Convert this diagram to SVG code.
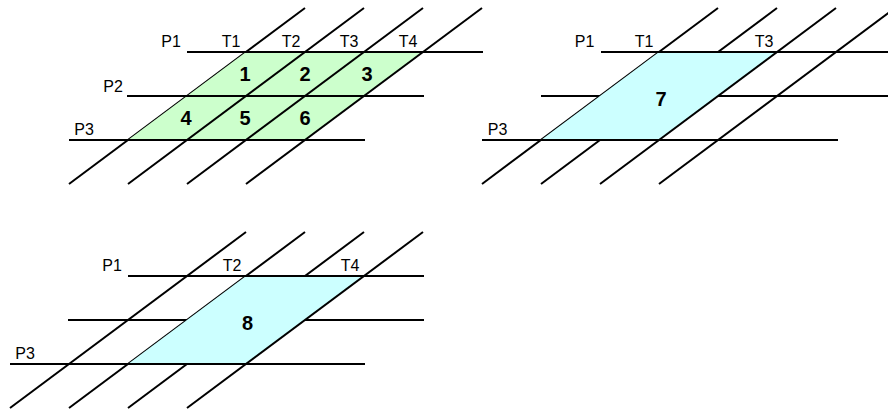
<svg xmlns="http://www.w3.org/2000/svg" width="888" height="412" viewBox="0 0 888 412">
<style>
.ln{stroke:#000;stroke-width:2;fill:none}
.g{fill:#ccffcc;stroke:none}
.c{fill:#ccffff;stroke:none}
.lb{font-family:"Liberation Sans",Arial,sans-serif;font-size:16px;fill:#000;text-anchor:middle}
.nm{font-family:"Liberation Sans",Arial,sans-serif;font-size:20px;font-weight:bold;fill:#000;text-anchor:middle}
</style>
<rect width="888" height="412" fill="#fff"/>
<g id="panel1">
  <g id="p1-under">
    <line class="ln" x1="69" y1="184" x2="305" y2="8"/>
  </g>
  <polygon id="p1-fill" class="g" points="246,52 423,52 305,140 128,140"/>
  <g id="p1-lines">
    <line class="ln" x1="128" y1="184" x2="364" y2="8"/>
    <line class="ln" x1="187" y1="184" x2="423" y2="8"/>
    <line class="ln" x1="246" y1="184" x2="482" y2="8"/>
    <line class="ln" x1="187" y1="52" x2="483" y2="52"/>
    <line class="ln" x1="127" y1="96" x2="424" y2="96"/>
    <line class="ln" x1="69" y1="140" x2="365" y2="140"/>
  </g>
  <g id="p1-labels">
    <text class="lb" x="171" y="47">P1</text>
    <text class="lb" x="231" y="47">T1</text>
    <text class="lb" x="291" y="47">T2</text>
    <text class="lb" x="349" y="47">T3</text>
    <text class="lb" x="408" y="47">T4</text>
    <text class="lb" x="113" y="92">P2</text>
    <text class="lb" x="84" y="135">P3</text>
    <text class="nm" x="245" y="81">1</text>
    <text class="nm" x="305" y="81">2</text>
    <text class="nm" x="367" y="81">3</text>
    <text class="nm" x="186" y="125">4</text>
    <text class="nm" x="245" y="125">5</text>
    <text class="nm" x="305" y="125">6</text>
  </g>
</g>
<g id="panel2">
  <g id="p2-under">
    <line class="ln" x1="482" y1="184" x2="718" y2="8"/>
    <line class="ln" x1="541" y1="184" x2="777" y2="8"/>
    <line class="ln" x1="659" y1="184" x2="895" y2="8"/>
    <line class="ln" x1="541" y1="96" x2="892" y2="96"/>
  </g>
  <polygon id="p2-fill" class="c" points="659,52 777,52 659,140 541,140"/>
  <g id="p2-lines">
    <line class="ln" x1="600" y1="184" x2="836" y2="8"/>
    <line class="ln" x1="601" y1="52" x2="892" y2="52"/>
    <line class="ln" x1="482" y1="140" x2="838" y2="140"/>
  </g>
  <g id="p2-labels">
    <text class="lb" x="584.5" y="47">P1</text>
    <text class="lb" x="644" y="47">T1</text>
    <text class="lb" x="764" y="47">T3</text>
    <text class="lb" x="497.5" y="135">P3</text>
    <text class="nm" x="661" y="106">7</text>
  </g>
</g>
<g id="panel3">
  <g id="p3-under">
    <line class="ln" x1="10" y1="408" x2="246" y2="232"/>
    <line class="ln" x1="69" y1="408" x2="305" y2="232"/>
    <line class="ln" x1="128" y1="408" x2="364" y2="232"/>
    <line class="ln" x1="68" y1="320" x2="424" y2="320"/>
  </g>
  <polygon id="p3-fill" class="c" points="246,276 364,276 246,364 128,364"/>
  <g id="p3-lines">
    <line class="ln" x1="187" y1="408" x2="423" y2="232"/>
    <line class="ln" x1="128" y1="276" x2="424" y2="276"/>
    <line class="ln" x1="10" y1="364" x2="365" y2="364"/>
  </g>
  <g id="p3-labels">
    <text class="lb" x="112" y="271">P1</text>
    <text class="lb" x="232" y="271">T2</text>
    <text class="lb" x="350" y="271">T4</text>
    <text class="lb" x="25" y="359">P3</text>
    <text class="nm" x="247.5" y="330">8</text>
  </g>
</g>
</svg>
